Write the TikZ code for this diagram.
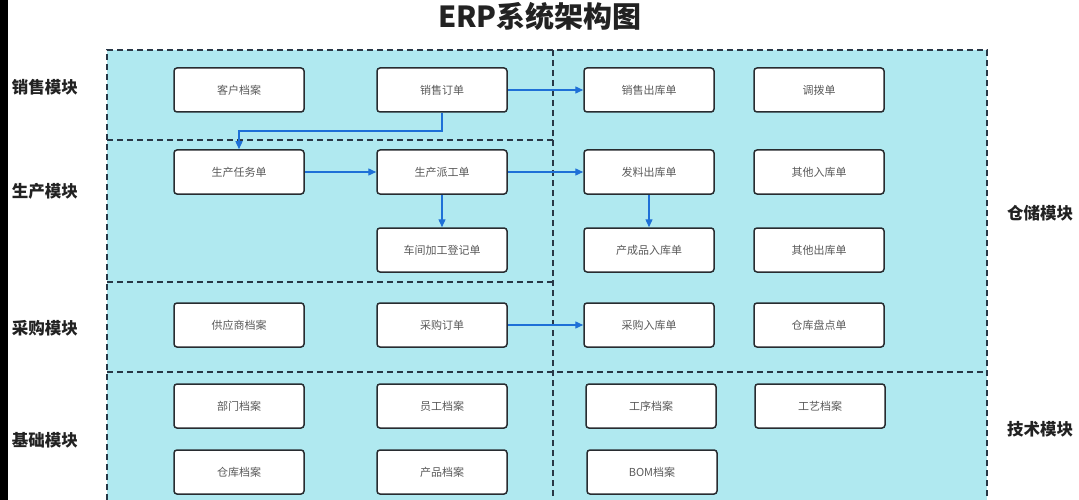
\documentclass[tikz,border=0pt]{standalone}
\usepackage{fontspec}
\setmainfont{Noto Sans CJK SC}
\usetikzlibrary{arrows.meta}
\definecolor{regfill}{RGB}{176,233,240}
\definecolor{regline}{RGB}{40,55,70}
\definecolor{boxline}{RGB}{40,44,48}
\definecolor{boxtext}{RGB}{90,90,90}
\definecolor{flow}{RGB}{30,112,215}
\definecolor{labtext}{RGB}{34,34,34}
\tikzset{
  region/.style={fill=regfill, draw=none},
  regionborder/.style={draw=regline, line width=1.4pt, dash pattern=on 6pt off 4pt},
  docbox/.style={draw=boxline, fill=white, line width=1.5pt, rounded corners=3pt,
    minimum width=130pt, minimum height=44pt, inner sep=0pt,
    font=\fontsize{11pt}{13pt}\selectfont, text=boxtext},
  modlabel/.style={font=\fontsize{16.5pt}{19pt}\selectfont\bfseries, text=labtext},
  flowarrow/.style={draw=flow, line width=1.4pt, -{Triangle[length=8pt,width=7pt]}},
}
\begin{document}
\begin{tikzpicture}[x=1pt,y=-1pt]
\clip (0,0) rectangle (1079,500);
\fill[white] (0,0) rectangle (1079,500);
\fill[black] (0,0) rectangle (8,500);
% regions
\fill[region] (107,50) rectangle (987,510);
\draw[regionborder] (107,510) -- (107,50) -- (987,50) -- (987,510);
\draw[regionborder] (553,50) -- (553,510);
\draw[regionborder] (107,140) -- (553,140);
\draw[regionborder] (107,282) -- (553,282);
\draw[regionborder] (107,372) -- (987,372);
% title
\node[font=\fontsize{29pt}{34pt}\selectfont\bfseries, text=labtext] (title) at (540,16) {ERP系统架构图};
% module labels
\node[modlabel] (lxs) at (45,87) {销售模块};
\node[modlabel] (lsc) at (45,191) {生产模块};
\node[modlabel] (lcg) at (45,328) {采购模块};
\node[modlabel] (ljc) at (45,440) {基础模块};
\node[modlabel] (lcc) at (1040,213) {仓储模块};
\node[modlabel] (ljs) at (1040,429) {技术模块};
% boxes
\node[docbox] (khda) at (239,90) {客户档案};
\node[docbox] (xsdd) at (442,90) {销售订单};
\node[docbox] (xsck) at (649,90) {销售出库单};
\node[docbox] (dbd) at (819,90) {调拨单};
\node[docbox] (scrw) at (239,172) {生产任务单};
\node[docbox] (scpg) at (442,172) {生产派工单};
\node[docbox] (cjjg) at (442,250) {车间加工登记单};
\node[docbox] (flck) at (649,172) {发料出库单};
\node[docbox] (qtrk) at (819,172) {其他入库单};
\node[docbox] (ccrk) at (649,250) {产成品入库单};
\node[docbox] (qtck) at (819,250) {其他出库单};
\node[docbox] (gysda) at (239,325) {供应商档案};
\node[docbox] (cgdd) at (442,325) {采购订单};
\node[docbox] (cgrk) at (649,325) {采购入库单};
\node[docbox] (ckpd) at (819,325) {仓库盘点单};
\node[docbox] (bmda) at (239,406) {部门档案};
\node[docbox] (ygda) at (442,406) {员工档案};
\node[docbox] (gxda) at (651,406) {工序档案};
\node[docbox] (gyda) at (820,406) {工艺档案};
\node[docbox] (ckda) at (239,472) {仓库档案};
\node[docbox] (cpda) at (442,472) {产品档案};
\node[docbox] (bomda) at (652,472) {BOM档案};
% arrows
\draw[flowarrow] (xsdd.east) -- (xsck.west);
\coordinate (turn) at (442,131);
\draw[flowarrow] (xsdd.south) -- (turn) -| (scrw.north);
\draw[flowarrow] (scrw.east) -- (scpg.west);
\draw[flowarrow] (scpg.east) -- (flck.west);
\draw[flowarrow] (scpg.south) -- (cjjg.north);
\draw[flowarrow] (flck.south) -- (ccrk.north);
\draw[flowarrow] (cgdd.east) -- (cgrk.west);
\end{tikzpicture}
\end{document}
